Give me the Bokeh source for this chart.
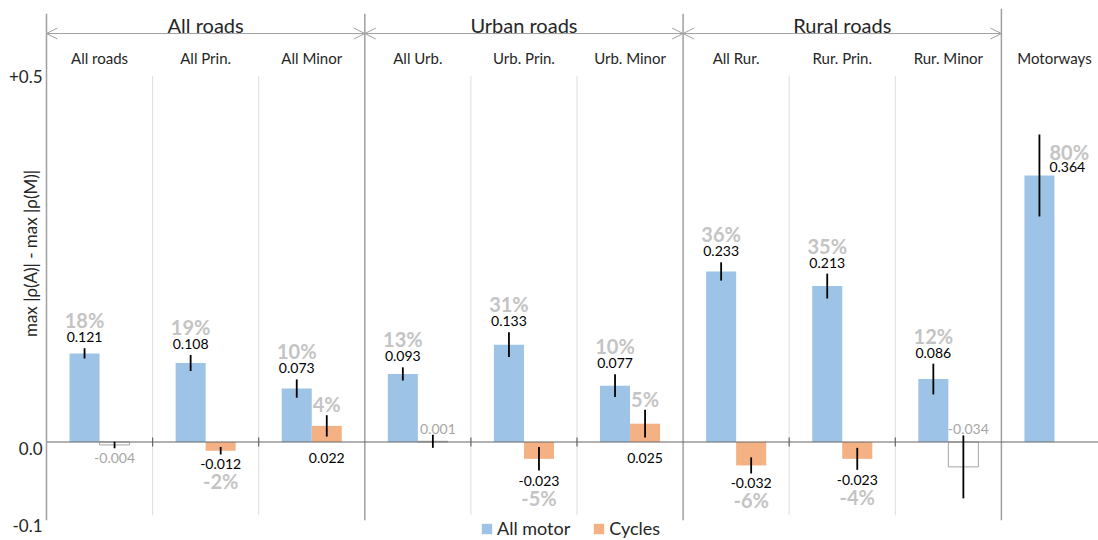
import math
from bokeh.plotting import figure
from bokeh.models import ColumnDataSource, Arrow, OpenHead, Legend, LegendItem
from bokeh.core.properties import value
from bokeh.embed import file_html
from bokeh.resources import INLINE

# ---------------- data ----------------
categories = ["All roads", "All Prin.", "All Minor",
              "All Urb.", "Urb. Prin.", "Urb. Minor",
              "All Rur.", "Rur. Prin.", "Rur. Minor",
              "Motorways"]
groups = ["All roads", "Urban roads", "Rural roads"]

motor_vals = [0.121, 0.108, 0.073, 0.093, 0.133, 0.077, 0.233, 0.213, 0.086, 0.364]
motor_err = [0.007, 0.011, 0.0125, 0.009, 0.017, 0.0155, 0.0125, 0.017, 0.021, 0.056]
motor_pct = ["18%", "19%", "10%", "13%", "31%", "10%", "36%", "35%", "12%", "80%"]

cycle_vals = [-0.004, -0.012, 0.022, 0.001, -0.023, 0.025, -0.032, -0.023, -0.034]
cycle_err = [0.0045, 0.005, 0.0146, 0.009, 0.016, 0.019, 0.011, 0.015, 0.043]
cycle_pct = ["", "-2%", "4%", "", "-5%", "5%", "-6%", "-4%", ""]
cycle_sig = [False, True, True, False, True, True, True, True, False]

y_ticks = [-0.1, 0.0, 0.5]
y_tick_labels = ["-0.1", "0.0", "+0.5"]
y_title = "max |ρ(A)| - max |ρ(M)|"

# ---------------- layout / style ----------------
cycle_label_mode = ["below", "below", "zero_below", "zero_above", "below",
                    "zero_below", "below", "below", "zero_above"]
y_tick_label_shift = [10, 6, 0]   # px, downward shift of the tick labels

FONT = "Lato"
BLUE = "#9DC3E6"
ORANGE = "#F4B183"
PCT_GRAY = "#C4C4C4"
INSIG_GRAY = "#A6A6A6"
SEP_LIGHT = "#DEDEDE"
SEP_DARK = "#A0A0A0"
TXT = "#262626"

W, H = 1098, 540
CAT_PX = 106.1          # pixels per category
AXIS_PX = 46            # screen x of the value axis
ZERO_PX = 441.5         # screen y of zero
UNIT_PX = 732.0         # pixels per unit of value

X0 = -AXIS_PX / CAT_PX
X1 = X0 + W / CAT_PX
Y1 = ZERO_PX / UNIT_PX
Y0 = -(H - ZERO_PX) / UNIT_PX

BAR_W = 0.283
OFF = 0.1415

n = len(categories)
centers = [i + 0.5 for i in range(n)]
motor_x = [c - OFF for c in centers]
cyc_x = [centers[i] + OFF for i in range(len(cycle_vals))]

p = figure(width=W, height=H, x_range=(X0, X1), y_range=(Y0, Y1),
           output_backend="svg", toolbar_location=None,
           x_axis_location=None, y_axis_location=None,
           min_border_left=0, min_border_right=0, min_border_top=0,
           min_border_bottom=0)
p.xgrid.visible = False
p.ygrid.visible = False
p.outline_line_color = None

# separators
sub_sep = [1, 2, 4, 5, 7, 8]
p.segment(x0=sub_sep, x1=sub_sep, y0=-0.1, y1=0.5, line_color=SEP_LIGHT, line_width=1)
grp_sep = [3, 6]
p.segment(x0=grp_sep, x1=grp_sep, y0=-0.107, y1=0.585, line_color=SEP_DARK, line_width=1.5)
p.segment(x0=[9], x1=[9], y0=[-0.107], y1=[0.592], line_color=SEP_DARK, line_width=1.5)

# header arrows and texts
ya = 0.558
for gi in range(len(groups)):
    head_kw = dict(size=11, line_color=SEP_DARK, line_width=1)
    p.add_layout(Arrow(start=OpenHead(**head_kw), end=OpenHead(**head_kw),
                       x_start=3 * gi, y_start=ya, x_end=3 * gi + 3, y_end=ya,
                       line_color=SEP_DARK, line_width=1))
p.text(x=[3 * gi + 1.5 for gi in range(len(groups))], y=[ya] * len(groups), text=groups,
       text_align="center", text_baseline="middle", y_offset=-9,
       text_font=value(FONT), text_font_size="20px", text_color=TXT)
p.text(x=centers, y=[0.524] * n, text=categories, text_align="center",
       text_baseline="middle", text_font=value(FONT), text_font_size="15px",
       text_color=TXT)

# bars
blue_r = p.vbar(x=motor_x, top=motor_vals, bottom=0, width=BAR_W,
                fill_color=BLUE, line_color=None)
sig_idx = [i for i in range(len(cycle_vals)) if cycle_sig[i]]
ins_idx = [i for i in range(len(cycle_vals)) if not cycle_sig[i]]
orange_r = p.vbar(x=[cyc_x[i] for i in sig_idx], top=[cycle_vals[i] for i in sig_idx],
                  bottom=0, width=BAR_W, fill_color=ORANGE, line_color=None)
p.vbar(x=[cyc_x[i] for i in ins_idx], top=[cycle_vals[i] for i in ins_idx],
       bottom=0, width=BAR_W, fill_color="white", line_color=INSIG_GRAY, line_width=1)

# zero line and small ticks
p.segment(x0=[0], x1=[X1], y0=[0], y1=[0], line_color="#666666", line_width=1.2)
p.segment(x0=sub_sep, x1=sub_sep, y0=-0.006, y1=0.006, line_color="#666666", line_width=1.2)

# error bars
p.segment(x0=motor_x, x1=motor_x,
          y0=[v - e for v, e in zip(motor_vals, motor_err)],
          y1=[v + e for v, e in zip(motor_vals, motor_err)],
          line_color="black", line_width=1.8)
p.segment(x0=cyc_x, x1=cyc_x,
          y0=[v - e for v, e in zip(cycle_vals, cycle_err)],
          y1=[v + e for v, e in zip(cycle_vals, cycle_err)],
          line_color="black", line_width=1.8)

# motor labels
m_last = n - 1
src_mv = ColumnDataSource(dict(
    x=motor_x[:m_last], y=[v + e for v, e in zip(motor_vals[:m_last], motor_err[:m_last])],
    t=["%.3f" % v for v in motor_vals[:m_last]], pct=motor_pct[:m_last]))
p.text(x="x", y="y", text="t", source=src_mv, y_offset=-11, text_align="center",
       text_baseline="middle", text_font=value(FONT), text_font_size="14px",
       text_color="black")
p.text(x="x", y="y", text="pct", source=src_mv, y_offset=-28, text_align="center",
       text_baseline="middle", text_font=value(FONT), text_font_size="20px",
       text_font_style="bold", text_color=PCT_GRAY)
# motorways label (beside the error bar)
p.text(x=[motor_x[m_last]], y=[motor_vals[m_last]], text=["%.3f" % motor_vals[m_last]],
       x_offset=10, y_offset=-9, text_align="left", text_baseline="middle",
       text_font=value(FONT), text_font_size="14px", text_color="black")
p.text(x=[motor_x[m_last]], y=[motor_vals[m_last]], text=[motor_pct[m_last]],
       x_offset=10, y_offset=-24, text_align="left", text_baseline="middle",
       text_font=value(FONT), text_font_size="20px", text_font_style="bold",
       text_color=PCT_GRAY)

# cycle value labels
cv = dict(x=[], y=[], t=[], off=[], xoff=[], col=[])
for i, v in enumerate(cycle_vals):
    e = cycle_err[i]
    mode = cycle_label_mode[i]
    xo = 0
    if mode == "below":
        y, off = v - e, 10
    elif mode == "zero_below":
        y, off = 0, 16
    else:
        y, off, xo = 0, -13, 5
    cv["x"].append(cyc_x[i]); cv["y"].append(y); cv["t"].append("%.3f" % v)
    cv["off"].append(off); cv["xoff"].append(xo)
    cv["col"].append("black" if cycle_sig[i] else INSIG_GRAY)
p.text(x="x", y="y", text="t", y_offset="off", x_offset="xoff", text_color="col",
       source=ColumnDataSource(cv), text_align="center", text_baseline="middle",
       text_font=value(FONT), text_font_size="14px")

# cycle percentage labels
cp = dict(x=[], y=[], t=[], off=[])
for i, v in enumerate(cycle_vals):
    if not cycle_pct[i]:
        continue
    e = cycle_err[i]
    if v < 0:
        y, off = v - e, 27
    else:
        y, off = v + e, -11
    cp["x"].append(cyc_x[i]); cp["y"].append(y); cp["t"].append(cycle_pct[i])
    cp["off"].append(off)
p.text(x="x", y="y", text="t", y_offset="off", source=ColumnDataSource(cp),
       text_align="center", text_baseline="middle", text_font=value(FONT),
       text_font_size="20px", text_font_style="bold", text_color=PCT_GRAY)

# value axis: line, tick labels, title
p.segment(x0=[0], x1=[0], y0=[-0.107], y1=[0.585], line_color=SEP_DARK, line_width=1.5)
p.text(x=[0] * len(y_ticks), y=y_ticks, text=y_tick_labels, x_offset=-4,
       y_offset=y_tick_label_shift, text_align="right", text_baseline="middle",
       text_font=value(FONT), text_font_size="17px", text_color=TXT)
p.text(x=[0], y=[0.2575], text=[y_title], x_offset=-16, angle=math.pi / 2,
       text_align="center", text_baseline="middle", text_font=value(FONT),
       text_font_size="17px", text_color=TXT)

# legend
legend = Legend(items=[LegendItem(label="All motor", renderers=[blue_r]),
                       LegendItem(label="Cycles", renderers=[orange_r])],
                orientation="horizontal", location=(480, 1),
                label_text_font=FONT, label_text_font_size="18px",
                label_text_color=TXT, glyph_width=13, glyph_height=13,
                spacing=22, padding=0, margin=0, label_standoff=4,
                border_line_color=None, background_fill_alpha=0)
p.add_layout(legend)

open("out.html", "w").write(file_html(p, INLINE))
